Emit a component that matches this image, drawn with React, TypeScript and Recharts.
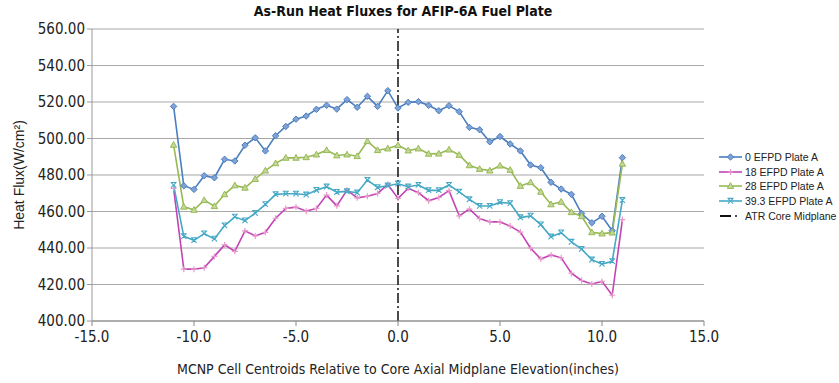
import React from 'react';
import {
  ComposedChart,
  Line,
  XAxis,
  YAxis,
  CartesianGrid,
  ReferenceLine,
} from 'recharts';

// cell centroids (inches from core midplane)
const xPos = [
  -11, -10.5, -10, -9.5, -9, -8.5, -8, -7.5, -7, -6.5, -6, -5.5, -5, -4.5, -4,
  -3.5, -3, -2.5, -2, -1.5, -1, -0.5, 0, 0.5, 1, 1.5, 2, 2.5, 3, 3.5, 4, 4.5, 5,
  5.5, 6, 6.5, 7, 7.5, 8, 8.5, 9, 9.5, 10, 10.5, 11,
];

const plate0 = [
  517.6, 474.1, 472.1, 479.6, 478.5, 488.6, 487.7, 496.3, 500.4, 493.2, 501.5,
  506.6, 510.6, 512.3, 516.0, 518.2, 516.1, 521.3, 517.1, 523.1, 517.6, 526.2,
  516.7, 519.8, 520.2, 518.2, 515.2, 518.0, 514.7, 506.1, 504.8, 498.2, 501.1,
  497.0, 493.2, 485.5, 484.0, 476.0, 472.3, 469.4, 458.9, 453.8, 457.4, 449.5,
  489.5,
];

const plate18 = [
  472.7, 428.4, 428.4, 429.2, 435.4, 441.7, 438.2, 449.4, 446.6, 448.6, 456.3,
  461.7, 462.4, 460.2, 461.7, 469.0, 463.1, 471.7, 467.5, 468.4, 469.9, 474.8,
  467.2, 472.7, 470.3, 465.9, 467.7, 471.4, 457.6, 461.3, 456.1, 454.3, 454.3,
  452.0, 448.7, 439.9, 434.0, 436.2, 434.6, 426.2, 422.2, 420.3, 421.7, 414.1,
  455.6,
];

const plate28 = [
  496.5, 462.6, 460.9, 466.2, 462.9, 469.4, 474.3, 473.0, 477.8, 482.4, 486.4,
  489.4, 489.4, 489.7, 491.2, 493.6, 490.7, 491.2, 490.3, 498.5, 493.6, 494.5,
  496.3, 493.4, 494.5, 491.6, 491.7, 493.9, 491.0, 485.3, 483.3, 482.4, 485.1,
  482.8, 474.0, 476.0, 470.8, 463.9, 465.3, 459.6, 457.4, 448.6, 447.9, 448.4,
  486.1,
];

const plate393 = [
  474.5, 446.4, 444.2, 447.9, 445.0, 452.3, 457.1, 455.0, 459.1, 463.9, 469.4,
  469.7, 469.7, 469.2, 471.7, 473.6, 470.6, 471.0, 470.3, 477.2, 473.2, 474.1,
  475.2, 473.6, 474.5, 471.6, 471.6, 474.5, 470.8, 466.6, 463.0, 463.0, 465.0,
  464.5, 456.7, 457.6, 452.8, 446.2, 448.4, 443.3, 439.4, 433.6, 431.2, 432.7,
  466.2,
];

const midplaneX = 0;
const xTicks = [-15, -10, -5, 0, 5, 10, 15];
const yTicks = [400, 420, 440, 460, 480, 500, 520, 540, 560];

const rows = xPos.map((x, i) => ({
  x,
  p0: plate0[i],
  p18: plate18[i],
  p28: plate28[i],
  p393: plate393[i],
}));

const NARROW = '"Liberation Sans Narrow", "DejaVu Sans Condensed", sans-serif';
const SANS = '"Liberation Sans", Arial, sans-serif';

const BLUE = '#4a7ebf';
const MAGENTA = '#c244b6';
const GREEN = '#98b954';
const TEAL = '#45a9c6';

type Shape = 'diamond' | 'plus' | 'triangle' | 'star';

function Marker({ cx, cy, shape }: { cx: number; cy: number; shape: Shape }) {
  if (cx == null || cy == null) return null;
  if (shape === 'diamond') {
    return (
      <path
        d={`M${cx},${cy - 3.2}L${cx + 3.2},${cy}L${cx},${cy + 3.2}L${cx - 3.2},${cy}Z`}
        fill="#7fa3d6"
        stroke={BLUE}
        strokeWidth={1}
      />
    );
  }
  if (shape === 'plus') {
    return (
      <path
        d={`M${cx - 3},${cy}H${cx + 3}M${cx},${cy - 3}V${cy + 3}`}
        stroke="#e79ac9"
        strokeWidth={1.2}
      />
    );
  }
  if (shape === 'triangle') {
    return (
      <path
        d={`M${cx},${cy - 3.3}L${cx + 3.2},${cy + 2.4}L${cx - 3.2},${cy + 2.4}Z`}
        fill="#c3d89a"
        stroke={GREEN}
        strokeWidth={1}
      />
    );
  }
  return (
    <path
      d={`M${cx - 2.6},${cy - 2.6}L${cx + 2.6},${cy + 2.6}M${cx + 2.6},${cy - 2.6}L${cx - 2.6},${cy + 2.6}M${cx - 3},${cy - 2.6}H${cx + 3}`}
      stroke={TEAL}
      strokeWidth={1.1}
    />
  );
}

const dotFor = (shape: Shape) => (props: any) => (
  <Marker key={`${shape}-${props.index}`} cx={props.cx} cy={props.cy} shape={shape} />
);

function YTitle(props: any) {
  const vb = props.viewBox || { x: 0, y: 0, height: 0 };
  const cx = vb.x + 19;
  const cy = vb.y + vb.height / 2;
  return (
    <text
      x={cx}
      y={cy}
      transform={`rotate(-90, ${cx}, ${cy})`}
      textAnchor="middle"
      dominantBaseline="central"
      fontFamily={SANS}
      fontSize={14}
      fill="#222"
    >
      Heat Flux(W/cm²)
    </text>
  );
}

const legendItems: { name: string; color: string; shape: Shape | 'dash' }[] = [
  { name: '0 EFPD Plate A', color: BLUE, shape: 'diamond' },
  { name: '18 EFPD Plate A', color: MAGENTA, shape: 'plus' },
  { name: '28 EFPD Plate A', color: GREEN, shape: 'triangle' },
  { name: '39.3 EFPD Plate A', color: TEAL, shape: 'star' },
  { name: 'ATR Core Midplane', color: '#111', shape: 'dash' },
];

export default function App() {
  return (
    <div
      style={{
        position: 'absolute',
        left: 0,
        top: 0,
        width: 839,
        height: 383,
        background: '#fff',
      }}
    >
      <div
        style={{
          position: 'absolute',
          left: 0,
          top: 3,
          width: 806,
          textAlign: 'center',
          fontFamily: NARROW,
          fontWeight: 'bold',
          fontSize: 14,
          color: '#111',
        }}
      >
        As-Run Heat Fluxes for AFIP-6A Fuel Plate
      </div>

      <ComposedChart
        width={839}
        height={383}
        data={rows}
        margin={{ top: 29, right: 135, bottom: 0, left: 0 }}
      >
        <CartesianGrid vertical={false} stroke="#a8a8a8" strokeWidth={1.2} />
        <XAxis
          type="number"
          dataKey="x"
          domain={[-15, 15]}
          ticks={xTicks}
          tickFormatter={(v: number) => v.toFixed(1)}
          height={62}
          stroke="#888"
          tickSize={5}
          tickMargin={5}
          tick={{ fontFamily: NARROW, fontSize: 15, fill: '#222' }}
          label={{
            value: 'MCNP Cell Centroids Relative to Core Axial Midplane Elevation(inches)',
            position: 'insideBottom',
            offset: 9,
            fontFamily: NARROW,
            fontSize: 14,
            fill: '#222',
          }}
        />
        <YAxis
          type="number"
          domain={[400, 560]}
          ticks={yTicks}
          tickFormatter={(v: number) => v.toFixed(2)}
          width={92}
          stroke="#999"
          tickSize={5}
          tickMargin={2}
          tick={{ fontFamily: NARROW, fontSize: 15, fill: '#222' }}
          label={<YTitle />}
        />
        <ReferenceLine
          x={midplaneX}
          stroke="#111"
          strokeWidth={1.5}
          strokeDasharray="10 3 2 3"
        />
        <Line
          dataKey="p0"
          name="0 EFPD Plate A"
          stroke={BLUE}
          strokeWidth={1.6}
          dot={dotFor('diamond')}
          isAnimationActive={false}
        />
        <Line
          dataKey="p18"
          name="18 EFPD Plate A"
          stroke={MAGENTA}
          strokeWidth={1.6}
          dot={dotFor('plus')}
          isAnimationActive={false}
        />
        <Line
          dataKey="p28"
          name="28 EFPD Plate A"
          stroke={GREEN}
          strokeWidth={1.6}
          dot={dotFor('triangle')}
          isAnimationActive={false}
        />
        <Line
          dataKey="p393"
          name="39.3 EFPD Plate A"
          stroke={TEAL}
          strokeWidth={1.6}
          dot={dotFor('star')}
          isAnimationActive={false}
        />
      </ComposedChart>

      {/* legend on the right */}
      <div style={{ position: 'absolute', left: 718, top: 150 }}>
        {legendItems.map((it) => (
          <div
            key={it.name}
            style={{
              display: 'flex',
              alignItems: 'center',
              height: 14.6,
              fontFamily: SANS,
              fontSize: 10.5,
              color: '#222',
              whiteSpace: 'nowrap',
            }}
          >
            <svg width={25} height={10} style={{ marginRight: 2 }}>
              {it.shape === 'dash' ? (
                <>
                  <line x1={2} y1={5} x2={13} y2={5} stroke="#111" strokeWidth={2} />
                  <line x1={17} y1={5} x2={19} y2={5} stroke="#111" strokeWidth={1.5} />
                </>
              ) : (
                <>
                  <line x1={1} y1={5} x2={24} y2={5} stroke={it.color} strokeWidth={1.6} />
                  <Marker cx={12.5} cy={5} shape={it.shape} />
                </>
              )}
            </svg>
            {it.name}
          </div>
        ))}
      </div>
    </div>
  );
}
